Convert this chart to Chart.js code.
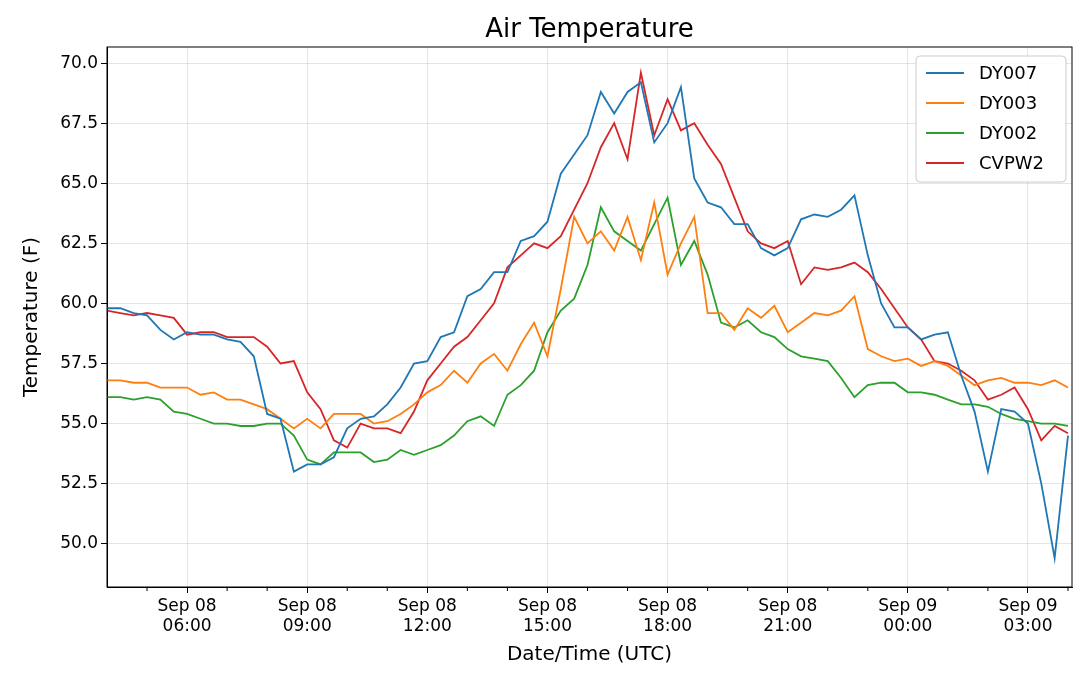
<!DOCTYPE html>
<html>
<head>
<meta charset="utf-8">
<script src="https://cdn.jsdelivr.net/npm/chart.js@4/dist/chart.umd.min.js"></script>
<style>
  body { margin: 0; background: #fff; }
  #wrap { width: 1080px; height: 673px; }
</style>
</head>
<body>
<div id="wrap"><canvas id="tempChart"></canvas></div>
<script>
// hours since Sep 08 00:00 UTC, readings every 20 minutes from 04:00 to 04:00 next day
const startHour = 4;
const stepHours = 1 / 3;

const dy007 = [
  59.8,59.8,59.6, 59.5,58.9,58.5, 58.8,58.7,58.7, 58.5,58.4,57.8,
  55.4,55.2,53.0, 53.3,53.3,53.6, 54.8,55.2,55.3, 55.8,56.5,57.5,
  57.6,58.6,58.8, 60.3,60.6,61.3, 61.3,62.6,62.8, 63.4,65.4,66.2,
  67.0,68.8,67.9, 68.8,69.2,66.7, 67.5,69.0,65.2, 64.2,64.0,63.3,
  63.3,62.3,62.0, 62.3,63.5,63.7, 63.6,63.9,64.5, 62.0,60.0,59.0,
  59.0,58.5,58.7, 58.8,57.0,55.5, 53.0,55.6,55.5, 55.0,52.5,49.4,
  54.5
];
const dy003 = [
  56.8,56.8,56.7, 56.7,56.5,56.5, 56.5,56.2,56.3, 56.0,56.0,55.8,
  55.6,55.2,54.8, 55.2,54.8,55.4, 55.4,55.4,55.0, 55.1,55.4,55.8,
  56.3,56.6,57.2, 56.7,57.5,57.9, 57.2,58.3,59.2, 57.8,60.6,63.6,
  62.5,63.0,62.2, 63.6,61.8,64.2, 61.2,62.5,63.6, 59.6,59.6,58.9,
  59.8,59.4,59.9, 58.8,59.2,59.6, 59.5,59.7,60.3, 58.1,57.8,57.6,
  57.7,57.4,57.6, 57.4,57.0,56.6, 56.8,56.9,56.7, 56.7,56.6,56.8,
  56.5
];
const dy002 = [
  56.1,56.1,56.0, 56.1,56.0,55.5, 55.4,55.2,55.0, 55.0,54.9,54.9,
  55.0,55.0,54.5, 53.5,53.3,53.8, 53.8,53.8,53.4, 53.5,53.9,53.7,
  53.9,54.1,54.5, 55.1,55.3,54.9, 56.2,56.6,57.2, 58.8,59.7,60.2,
  61.6,64.0,63.0, 62.6,62.2,63.3, 64.4,61.6,62.6, 61.2,59.2,59.0,
  59.3,58.8,58.6, 58.1,57.8,57.7, 57.6,56.9,56.1, 56.6,56.7,56.7,
  56.3,56.3,56.2, 56.0,55.8,55.8, 55.7,55.4,55.2, 55.1,55.0,55.0,
  54.9
];
const cvpw2 = [
  59.7,59.6,59.5, 59.6,59.5,59.4, 58.7,58.8,58.8, 58.6,58.6,58.6,
  58.2,57.5,57.6, 56.3,55.6,54.3, 54.0,55.0,54.8, 54.8,54.6,55.5,
  56.8,57.5,58.2, 58.6,59.3,60.0, 61.5,62.0,62.5, 62.3,62.8,63.9,
  65.0,66.5,67.5, 66.0,69.6,67.0, 68.5,67.2,67.5, 66.6,65.8,64.4,
  63.0,62.5,62.3, 62.6,60.8,61.5, 61.4,61.5,61.7, 61.3,60.6,59.8,
  59.0,58.5,57.6, 57.5,57.2,56.8, 56.0,56.2,56.5, 55.6,54.3,54.9,
  54.6
];

const seriesNames = ['DY007', 'DY003', 'DY002', 'CVPW2'];
const seriesColors = ['#1f77b4', '#ff7f0e', '#2ca02c', '#d62728'];
const xTickHours = [6, 9, 12, 15, 18, 21, 24, 27];
const xTickLabels = [['Sep 08','06:00'],['Sep 08','09:00'],['Sep 08','12:00'],['Sep 08','15:00'],
                     ['Sep 08','18:00'],['Sep 08','21:00'],['Sep 09','00:00'],['Sep 09','03:00']];
const yTicks = [50, 52.5, 55, 57.5, 60, 62.5, 65, 67.5, 70];

const allSeries = [dy007, dy003, dy002, cvpw2];
const toPoints = arr => arr.map((v, i) => ({ x: startHour + i * stepHours, y: v }));

const FONT = 'DejaVu Sans, sans-serif';

const framePlugin = {
  id: 'frame',
  afterDraw(chart) {
    const { ctx, chartArea: a, scales } = chart;
    ctx.save();
    ctx.strokeStyle = '#000';
    ctx.lineWidth = 1;
    ctx.strokeRect(a.left, a.top, a.right - a.left, a.bottom - a.top);
    // minor hour ticks
    for (let h = 5; h <= 28; h++) {
      if (xTickHours.includes(h)) continue;
      const x = scales.x.getPixelForValue(h);
      ctx.beginPath(); ctx.moveTo(x, a.bottom); ctx.lineTo(x, a.bottom + 4); ctx.stroke();
    }
    // title
    ctx.fillStyle = '#000';
    ctx.font = '26px ' + FONT;
    ctx.textAlign = 'center'; ctx.textBaseline = 'middle';
    ctx.fillText('Air Temperature', (a.left + a.right) / 2, 30);
    // legend
    const bx = 916, by = 56, bw = 150, bh = 126;
    ctx.fillStyle = 'rgba(255,255,255,0.85)';
    ctx.strokeStyle = '#ccc';
    ctx.beginPath(); ctx.roundRect(bx, by, bw, bh, 4); ctx.fill(); ctx.stroke();
    ctx.font = '18px ' + FONT;
    ctx.textAlign = 'left';
    seriesNames.forEach((n, i) => {
      const y = by + 17 + i * 30;
      ctx.strokeStyle = seriesColors[i]; ctx.lineWidth = 2;
      ctx.beginPath(); ctx.moveTo(bx + 10, y); ctx.lineTo(bx + 48, y); ctx.stroke();
      ctx.fillStyle = '#000';
      ctx.fillText(n, bx + 63, y + 1);
    });
    ctx.restore();
  }
};

new Chart(document.getElementById('tempChart'), {
  type: 'line',
  data: {
    datasets: allSeries.map((s, i) => ({
      label: seriesNames[i],
      data: toPoints(s),
      borderColor: seriesColors[i],
      backgroundColor: seriesColors[i],
      borderWidth: 1.8,
      pointRadius: 0,
      tension: 0
    }))
  },
  options: {
    responsive: true,
    maintainAspectRatio: false,
    animation: false,
    layout: { padding: { top: 47, right: 8, left: 20, bottom: 6 } },
    plugins: { legend: { display: false }, tooltip: { enabled: false } },
    scales: {
      x: {
        type: 'linear',
        min: 4, max: 28.1,
        afterBuildTicks: s => { s.ticks = xTickHours.map(v => ({ value: v })); },
        afterFit: s => { s.height = 80; },
        ticks: {
          autoSkip: false, maxRotation: 0, color: '#000',
          font: { family: FONT, size: 17 },
          callback: (v) => xTickLabels[xTickHours.indexOf(v)]
        },
        grid: { color: 'rgba(0,0,0,0.1)', tickColor: '#000', tickLength: 6 },
        border: { color: '#000' },
        title: { display: true, text: 'Date/Time (UTC)', color: '#000', font: { family: FONT, size: 20 }, padding: 0 }
      },
      y: {
        min: 48.2, max: 70.67,
        afterBuildTicks: s => { s.ticks = yTicks.map(v => ({ value: v })); },
        afterFit: s => { s.width = 87; },
        ticks: {
          color: '#000', font: { family: FONT, size: 17 },
          callback: v => v.toFixed(1)
        },
        grid: { color: 'rgba(0,0,0,0.1)', tickColor: '#000', tickLength: 6 },
        border: { color: '#000' },
        title: { display: true, text: 'Temperature (F)', color: '#000', font: { family: FONT, size: 20 }, padding: 0 }
      }
    }
  },
  plugins: [framePlugin]
});
</script>
</body>
</html>
